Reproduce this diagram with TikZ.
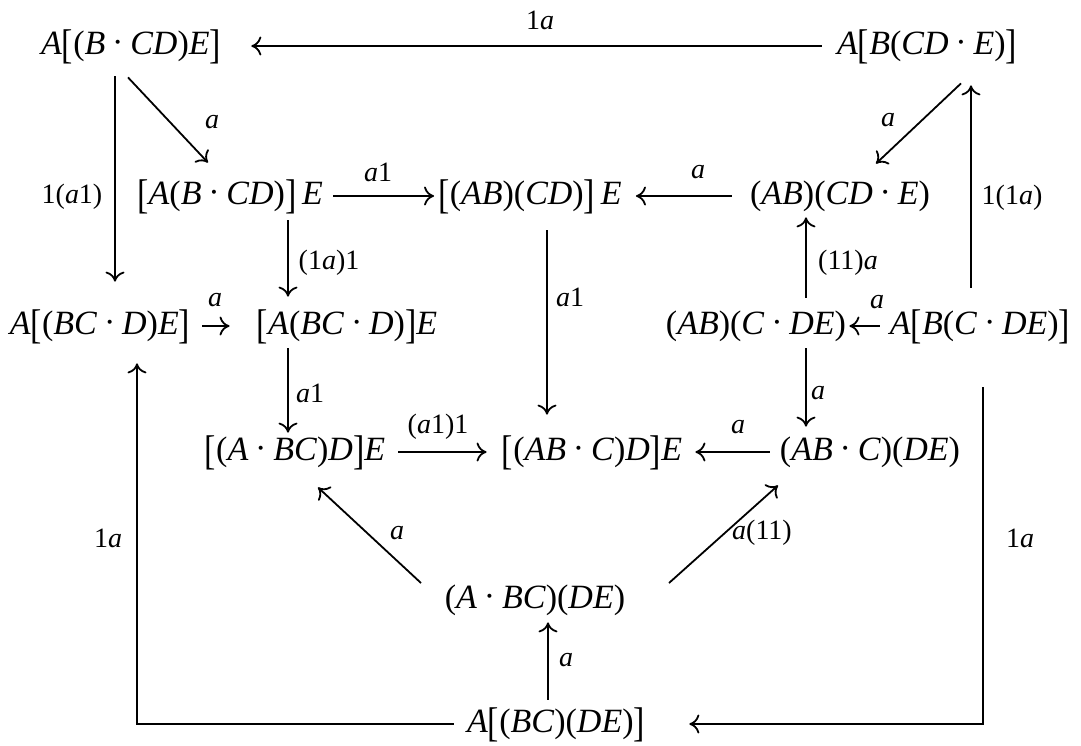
\documentclass[tikz,border=0pt]{standalone}
\usepackage{fontspec}
\setmainfont{Liberation Serif}
\usetikzlibrary{arrows.meta,calc}
\newcommand\It[1]{\textit{#1}}
\newcommand\mdot{\hspace{0.2em}\raisebox{0.02em}{·}\hspace{0.2em}}
\newcommand\lbk{\raisebox{-0.12em}{\scalebox{1}[1.22]{[}}}
\newcommand\rbk{\raisebox{-0.12em}{\scalebox{1}[1.22]{]}}}
\begin{document}
\begin{tikzpicture}[x=0.5pt,y=-0.5pt,
  obj/.style={inner sep=0pt, text height=12pt, text depth=4pt, font=\fontsize{17}{20}\selectfont},
  lab/.style={inner sep=0pt, font=\fontsize{14}{16}\selectfont},
  arr/.style={line width=0.9pt, -{To[length=5pt,width=9.5pt]}}]
\useasboundingbox (0,0) rectangle (1081,745);
\fill[white] (0,0) rectangle (1081,745);
% objects
\node[obj] (N1) at (131,46) {\It{A}\lbk(\It{B}\mdot\It{CD})\It{E}\rbk};
\node[obj] (N2) at (927,46) {\It{A}\lbk\It{B}(\It{CD}\mdot\It{E})\rbk};
\node[obj] (N3) at (230,196) {\lbk\It{A}(\It{B}\mdot\It{CD})\rbk\,\It{E}};
\node[obj] (N4) at (530,196) {\lbk(\It{AB})(\It{CD})\rbk\,\It{E}};
\node[obj] (N5) at (840,196) {(\It{AB})(\It{CD}\mdot\It{E})};
\node[obj] (N6) at (100,326) {\It{A}\lbk(\It{BC}\mdot\It{D})\It{E}\rbk};
\node[obj] (N7) at (347,326) {\lbk\It{A}(\It{BC}\mdot\It{D})\rbk\It{E}};
\node[obj] (N8) at (756,326) {(\It{AB})(\It{C}\mdot\It{DE})};
\node[obj] (N9) at (980,326) {\It{A}\lbk\It{B}(\It{C}\mdot\It{DE})\rbk};
\node[obj] (N10) at (295,452) {\lbk(\It{A}\mdot\It{BC})\It{D}\rbk\It{E}};
\node[obj] (N11) at (592,452) {\lbk(\It{AB}\mdot\It{C})\It{D}\rbk\It{E}};
\node[obj] (N12) at (870,452) {(\It{AB}\mdot\It{C})(\It{DE})};
\node[obj] (N13) at (535,600) {(\It{A}\mdot\It{BC})(\It{DE})};
\node[obj] (N14) at (556,724) {\It{A}\lbk(\It{BC})(\It{DE})\rbk};
% column coordinates for vertical arrows
\coordinate (xa) at (115,0);
\coordinate (xb) at (288,0);
\coordinate (xc) at (547,0);
\coordinate (xd) at (806,0);
\coordinate (xe) at (971,0);
\coordinate (xf) at (548,0);
\coordinate (lx) at (137,0);
\coordinate (rx) at (983,0);
% arrows
\draw[arr, shorten <=7.5pt, shorten >=15pt] (N2.west) -- (N1.east);
\draw[arr] ([xshift=-1.5pt,yshift=-7.5pt]N1.south) -- ([xshift=-11pt,yshift=8.5pt]N3.north);
\draw[arr, shorten <=7pt, shorten >=14pt] (N1.south -| xa) -- (N6.north -| xa);
\draw[arr, shorten <=5pt, shorten >=2pt] (N3.east) -- (N4.west);
\draw[arr, shorten <=9pt, shorten >=7pt] (N5.west) -- (N4.east);
\draw[arr] ([xshift=17pt,yshift=-10.5pt]N2.south) -- ([xshift=18pt,yshift=8pt]N5.north);
\draw[arr, shorten <=11pt, shorten >=11.5pt] (N9.north -| xe) -- (N2.south -| xe);
\draw[arr, shorten <=4pt, shorten >=6.5pt] (N3.south -| xb) -- (N7.north -| xb);
\draw[arr, shorten <=6pt, shorten >=13.5pt] (N6.east) -- (N7.west);
\draw[arr, shorten <=9pt, shorten >=10.5pt] (N4.south -| xc) -- (N11.north -| xc);
\draw[arr, shorten <=6pt, shorten >=2.5pt] (N8.north -| xd) -- (N5.south -| xd);
\draw[arr, shorten <=5pt, shorten >=1.5pt] (N9.west) -- (N8.east);
\draw[arr, shorten <=3pt, shorten >=4.5pt] (N8.south -| xd) -- (N12.north -| xd);
\draw[arr, shorten <=3pt, shorten >=1.5pt] (N7.south -| xb) -- (N10.north -| xb);
\draw[arr, shorten <=6.5pt, shorten >=7.5pt] (N10.east) -- (N11.west);
\draw[arr, shorten <=5pt, shorten >=6.5pt] (N12.west) -- (N11.east);
\draw[arr] ([xshift=-57pt,yshift=8.5pt]N13.center) -- ([xshift=11.5pt,yshift=-9.5pt]N10.south);
\draw[arr] ([xshift=67pt,yshift=8.5pt]N13.center) -- ([xshift=-46pt,yshift=-8.5pt]N12.south);
\draw[arr, shorten <=4pt, shorten >=3pt] (N14.north -| xf) -- (N13.south -| xf);
\draw[arr, shorten <=6.5pt, shorten >=10.5pt] (N14.west) -| (N6.south -| lx);
\draw[arr, shorten <=22.5pt, shorten >=22pt] (N9.south -| rx) |- (N14.east);
% labels
\node[lab] (L1) at (540,20) {1\It{a}};
\node[lab] (L2) at (212,122) {\It{a}};
\node[lab] (L3) at (72,197) {1(\It{a}1)};
\node[lab] (L4) at (378,172) {\It{a}1};
\node[lab] (L5) at (698,172) {\It{a}};
\node[lab] (L6) at (888,120) {\It{a}};
\node[lab] (L7) at (1012,198) {1(1\It{a})};
\node[lab] (L8) at (329,263) {(1\It{a})1};
\node[lab] (L9) at (215,300) {\It{a}};
\node[lab] (L10) at (848,263) {(11)\It{a}};
\node[lab] (L11) at (877,302) {\It{a}};
\node[lab] (L12) at (570,297) {\It{a}1};
\node[lab] (L13) at (818,393) {\It{a}};
\node[lab] (L14) at (310,393) {\It{a}1};
\node[lab] (L15) at (438,427) {(\It{a}1)1};
\node[lab] (L16) at (738,427) {\It{a}};
\node[lab] (L17) at (397,533) {\It{a}};
\node[lab] (L18) at (762,533) {\It{a}(11)};
\node[lab] (L19) at (566,660) {\It{a}};
\node[lab] (L20) at (108,538) {1\It{a}};
\node[lab] (L21) at (1020,538) {1\It{a}};
\end{tikzpicture}
\end{document}
